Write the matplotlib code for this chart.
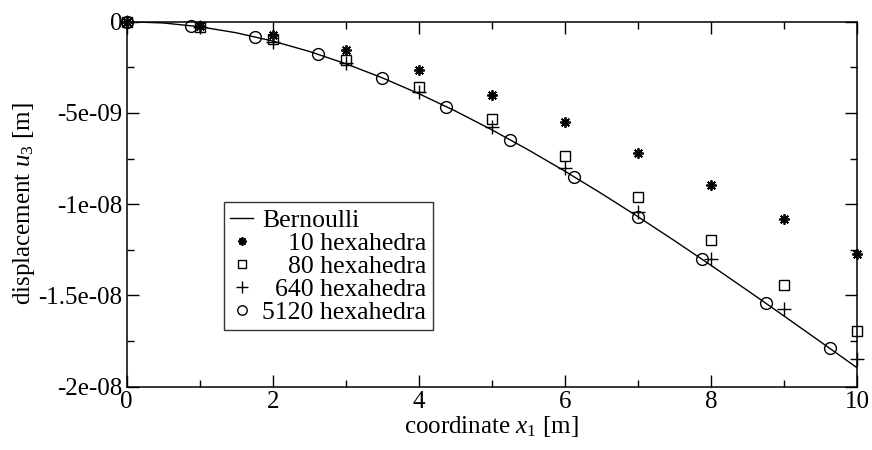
import matplotlib
matplotlib.use("Agg")
import matplotlib.pyplot as plt
from matplotlib.ticker import MultipleLocator

plt.rcParams['font.family'] = ['Liberation Serif', 'DejaVu Serif']
plt.rcParams['mathtext.fontset'] = 'custom'
plt.rcParams['mathtext.rm'] = 'Liberation Serif'
plt.rcParams['mathtext.it'] = 'Liberation Serif:italic'

# Bernoulli reference curve (in m)
bern_x = [0, 0.5, 1, 1.5, 2, 2.5, 3, 3.5, 4, 4.5, 5, 5.5, 6, 6.5, 7, 7.5, 8, 8.5, 9, 9.5, 10]
bern_y = [0, -0.070e-9, -0.275e-9, -0.608e-9, -1.062e-9, -1.629e-9, -2.304e-9, -3.077e-9,
          -3.944e-9, -4.895e-9, -5.925e-9, -7.026e-9, -8.191e-9, -9.413e-9, -10.684e-9,
          -11.998e-9, -13.348e-9, -14.726e-9, -16.125e-9, -17.539e-9, -18.96e-9]

h10_x = [0, 1, 2, 3, 4, 5, 6, 7, 8, 9, 10]
h10_y = [0, -0.25e-9, -0.73e-9, -1.55e-9, -2.65e-9, -4.0e-9, -5.51e-9, -7.17e-9,
         -8.97e-9, -10.83e-9, -12.73e-9]

h80_x = [0, 1, 2, 3, 4, 5, 6, 7, 8, 9, 10]
h80_y = [0, -0.27e-9, -0.97e-9, -2.1e-9, -3.56e-9, -5.31e-9, -7.34e-9, -9.59e-9,
         -11.96e-9, -14.43e-9, -16.95e-9]

h640_x = [0, 1, 2, 3, 4, 5, 6, 7, 8, 9, 10]
h640_y = [0, -0.3e-9, -1.1e-9, -2.25e-9, -3.84e-9, -5.75e-9, -8.03e-9, -10.41e-9,
          -13.02e-9, -15.74e-9, -18.5e-9]

h5120_x = [0, 0.875, 1.75, 2.625, 3.5, 4.375, 5.25, 6.125, 7.0, 7.875, 8.75, 9.625]
h5120_y = [0, -0.21e-9, -0.82e-9, -1.79e-9, -3.08e-9, -4.67e-9, -6.47e-9, -8.49e-9,
           -10.68e-9, -13.01e-9, -15.42e-9, -17.89e-9]

labels = ['Bernoulli', '    10 hexahedra', '    80 hexahedra', '  640 hexahedra', '5120 hexahedra']
yticks = [0, -5e-9, -1e-8, -1.5e-8, -2e-8]
ytick_labels = ['0', '-5e-09', '-1e-08', '-1.5e-08', '-2e-08']

fig = plt.figure(figsize=(8.72, 4.5), dpi=100)
ax = fig.add_axes([0.1453, 0.1407, 0.8375, 0.8111])

ax.plot(bern_x, bern_y, color='black', lw=1.0, label=labels[0])
ax.plot(h10_x, h10_y, ls='none', marker=(8, 2, 0), ms=7.5, mew=1.3, color='black',
        label=labels[1], clip_on=False)
ax.plot(h80_x, h80_y, ls='none', marker='s', ms=7, mfc='none', mew=1.0, color='black',
        label=labels[2], clip_on=False)
ax.plot(h640_x, h640_y, ls='none', marker='+', ms=10, mew=1.0, color='black',
        label=labels[3], clip_on=False)
ax.plot(h5120_x, h5120_y, ls='none', marker='o', ms=8.5, mfc='none', mew=1.0, color='black',
        label=labels[4], clip_on=False)

ax.set_xlim(0, 10)
ax.set_ylim(-2e-8, 0)
ax.xaxis.set_major_locator(MultipleLocator(2))
ax.xaxis.set_minor_locator(MultipleLocator(1))
ax.set_yticks(yticks)
ax.set_yticklabels(ytick_labels)
ax.yaxis.set_minor_locator(MultipleLocator(2.5e-9))
ax.tick_params(which='both', direction='in', top=True, right=True, labelsize=18, width=1.0)
ax.tick_params(which='major', length=8.5)
ax.tick_params(which='minor', length=5)
ax.tick_params(axis='y', pad=3)
ax.tick_params(axis='x', pad=3)
for s in ax.spines.values():
    s.set_linewidth(1.1)

ax.set_xlabel(r'coordinate $x_1$ [m]', fontsize=18, labelpad=1)
ax.set_ylabel(r'displacement $u_3$ [m]', fontsize=18, labelpad=1)

leg = ax.legend(loc='upper left', bbox_to_anchor=(0.133, 0.505), fontsize=18.5, frameon=True,
                fancybox=False, edgecolor='black', borderpad=0.25, labelspacing=0.0,
                handlelength=0.9, handletextpad=0.35, borderaxespad=0, markerscale=0.8)
leg.get_frame().set_linewidth(1.0)

fig.savefig('out.png', dpi=100)
